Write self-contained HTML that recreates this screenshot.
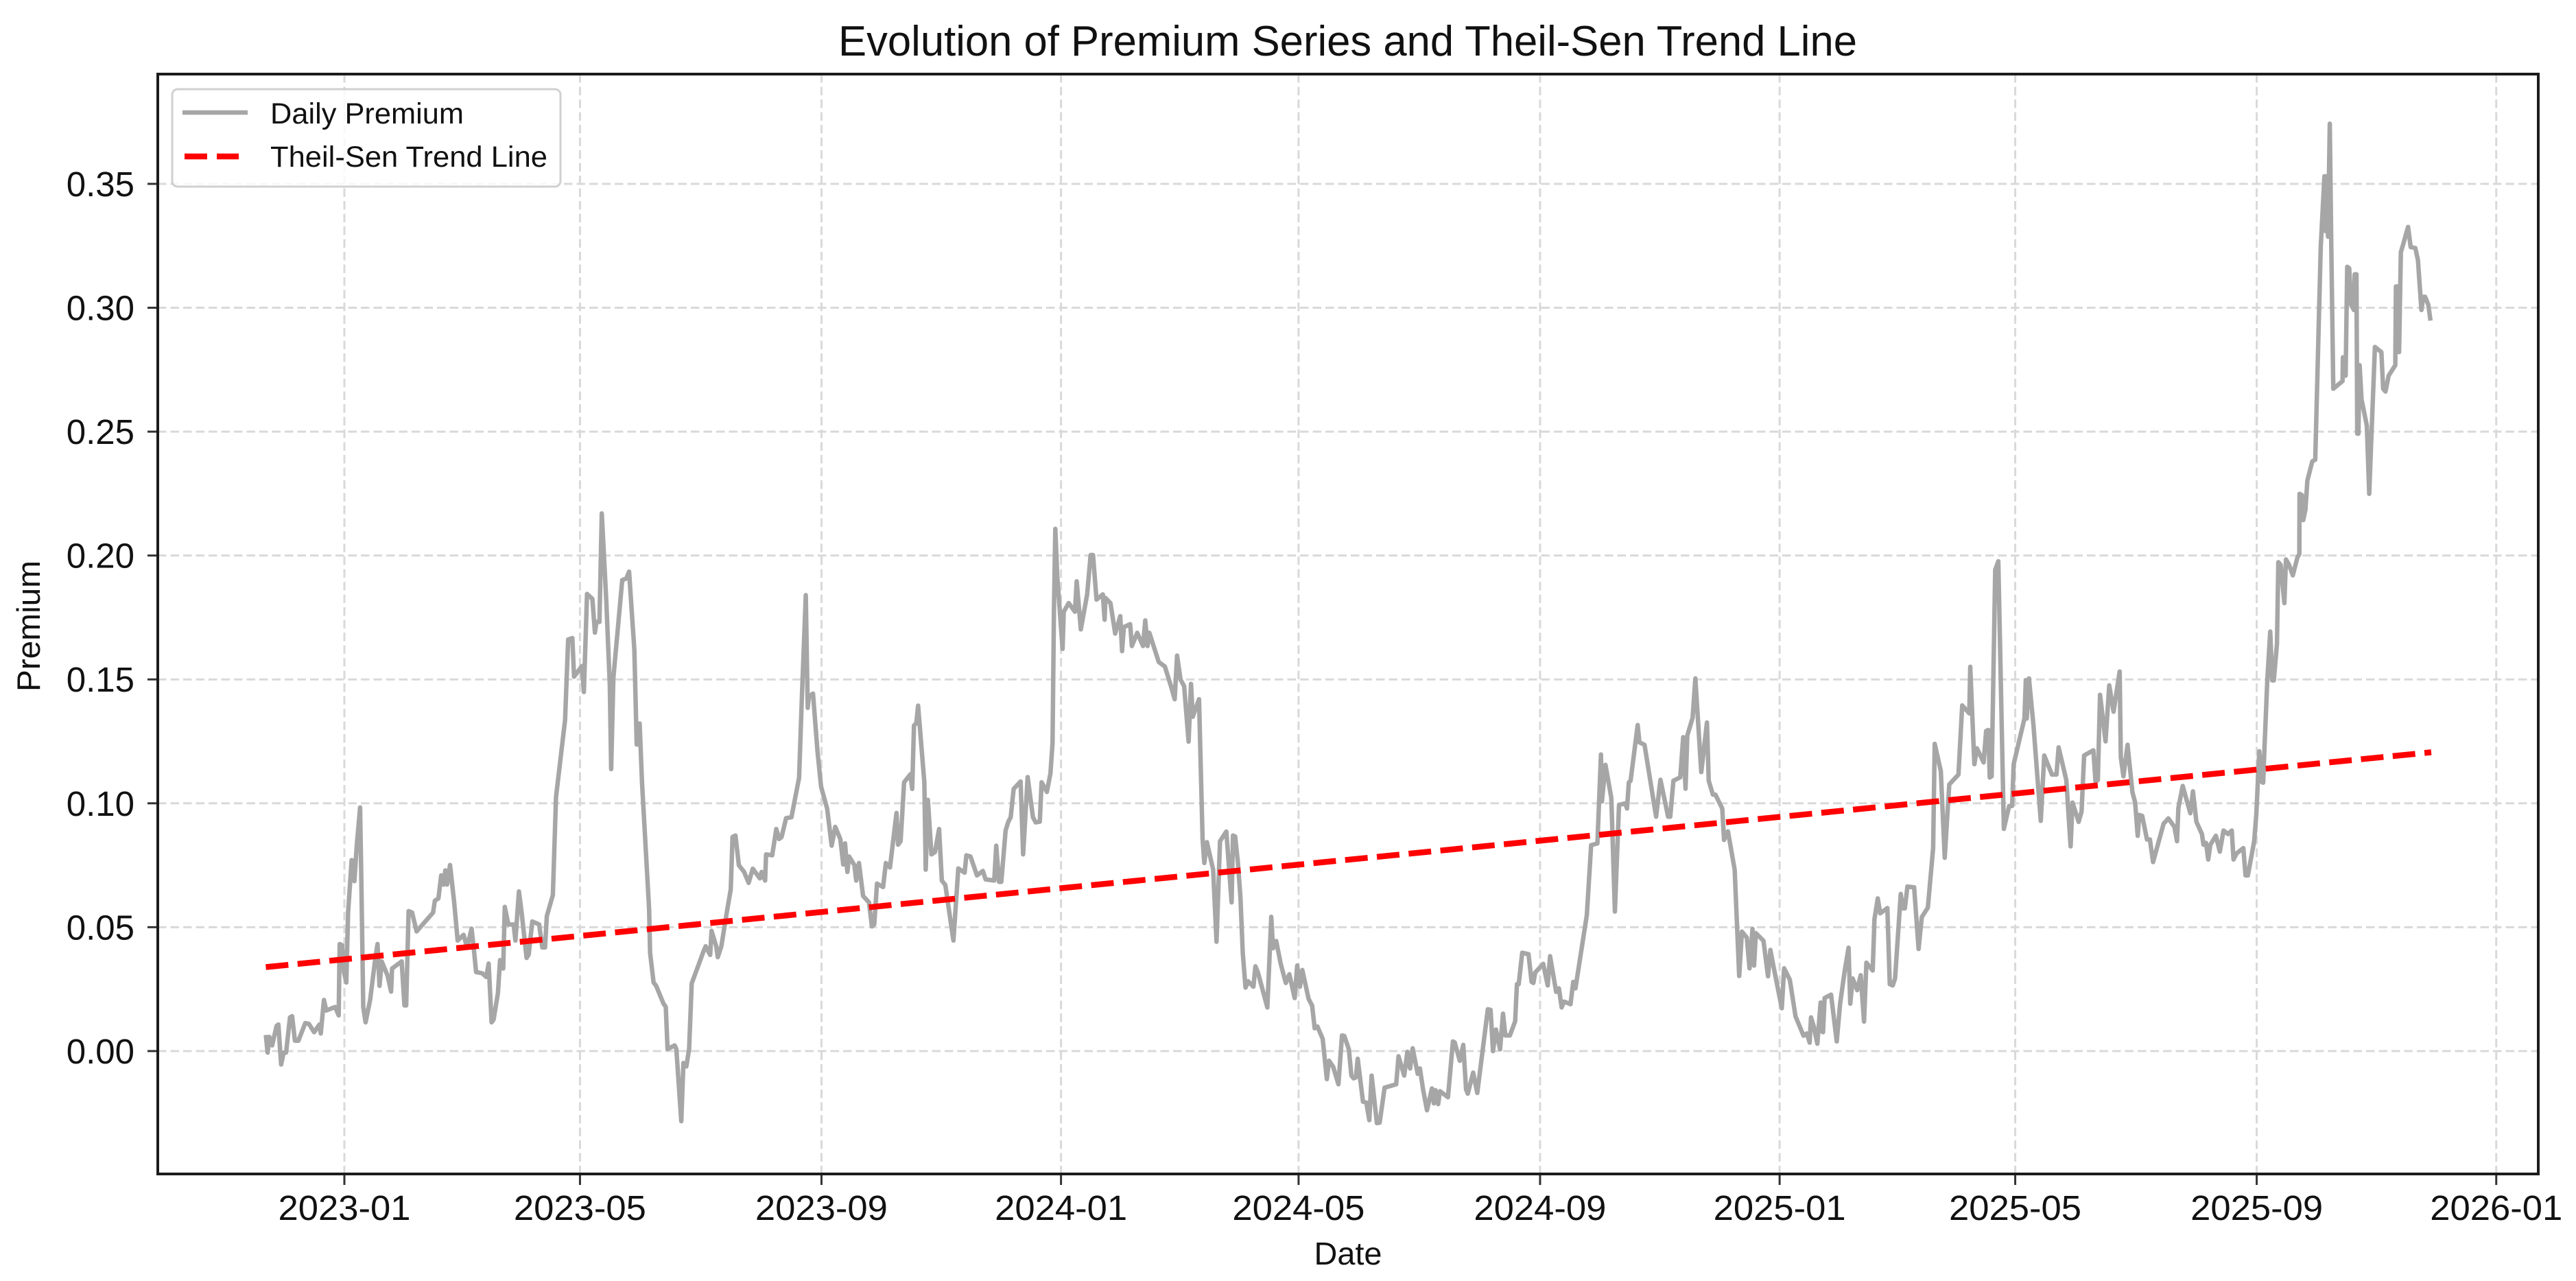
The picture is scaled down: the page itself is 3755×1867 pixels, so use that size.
<!DOCTYPE html>
<html lang="en">
<head>
<meta charset="utf-8">
<title>Evolution of Premium Series and Theil-Sen Trend Line</title>
<style>
  html, body { margin: 0; padding: 0; background: #ffffff; }
  svg { display: block; font-family: "Liberation Sans", sans-serif; }
  text { fill: #111111; }
</style>
</head>
<body>
<svg id="chart" xmlns="http://www.w3.org/2000/svg" width="3755" height="1867" viewBox="0 0 3755 1867">
  <rect x="0" y="0" width="3755" height="1867" fill="#ffffff"/>
  <g id="grid"></g>
  <g id="series"></g>
  <g id="ticks"></g>
  <rect x="230" y="108" width="3470" height="1603" fill="none" stroke="#1c1c1c" stroke-width="4"/>
  <text x="1222" y="81" font-size="62" textLength="1485" lengthAdjust="spacingAndGlyphs">Evolution of Premium Series and Theil-Sen Trend Line</text>
  <text x="1965" y="1843" font-size="46" text-anchor="middle" textLength="99" lengthAdjust="spacingAndGlyphs">Date</text>
  <text transform="translate(58,912.5) rotate(-90)" font-size="47" text-anchor="middle" textLength="191" lengthAdjust="spacingAndGlyphs">Premium</text>
  <g>
    <rect x="251" y="130" width="566" height="142" rx="8" ry="8" fill="#ffffff" fill-opacity="0.8" stroke="#d0d0d0" stroke-width="3"/>
    <line x1="266" y1="164" x2="361" y2="164" stroke="#a6a6a6" stroke-width="6.5"/>
    <text x="394" y="180" font-size="43" textLength="282" lengthAdjust="spacingAndGlyphs">Daily Premium</text>
    <line x1="269" y1="228" x2="348" y2="228" stroke="#ff0000" stroke-width="8.5" stroke-dasharray="33 14"/>
    <text x="394" y="243" font-size="43" textLength="404" lengthAdjust="spacingAndGlyphs">Theil-Sen Trend Line</text>
  </g>
</svg>
<script>
// Days since 2022-11-22 for each observation of the premium series
const premiumDays = [
0,.9,1.8,3.2,5.5,6.4,7.8,9.1,10.3,12.3,
13.4,14.8,16.6,20.1,21.9,24.6,27.3,28,29.6,30.8,
35.3,37.1,37.6,38.9,39.8,41,41.9,43.7,45.1,46.3,
48,48.7,49.6,50.8,53.1,55.8,56.9,57.9,59,62,
63.8,64.3,69.2,70.6,71.5,72.7,74.5,76.8,85.2,86.1,
87.9,89.3,90.6,91.4,92.3,93.8,95.9,97.7,100.7,102.5,
104.8,106.1,107.1,110.2,112.3,113.5,115,116,118.2,119.3,
120.9,121.7,123.5,126.2,127.1,128.9,130.3,132.8,133.9,135.7,
139.2,140.8,142.2,143.1,146.2,147.8,152.4,154,156.1,157,
161,162,163.6,166.3,167.6,168.4,169.9,171.1,173.4,175.2,
175.9,177,181.5,183.6,185,187.7,188.9,190.4,191.6,195.2,
195.7,197.5,198.8,202.5,203.7,204.6,208.2,209.1,211.6,212.7,
214.2,215.6,216.9,223.1,224,226.3,227,229.4,230.2,232,
234.7,236.8,237.7,239.2,240.9,243.6,245.9,248,251.6,252.5,
254.3,254.8,257.9,260,261.4,262.7,265,267.7,271.6,273,
273.4,275,276,276.6,278.7,281,282.8,285.9,288.2,290,
292.6,294.1,295,296.2,297.1,299.8,300.7,302.1,304.2,307.2,
308.7,309.9,311.3,314.4,315.8,317.9,321.2,322,323.3,325.1,
328.3,329.2,330.1,331.3,332.2,335.4,336.1,337.2,339,340.8,
342.9,344.3,346.1,350.2,352.7,355.9,356.8,358.9,362.2,365.2,
366.6,371,372,373.4,374.6,376.8,378.2,379.4,380.9,384.4,
385.7,388,390.7,392.1,394.2,395.1,397.8,399.6,400.7,401.4,
402.1,403.1,405.8,406.4,408.9,412.1,413,415.1,418.3,420.1,
421.3,423.1,426.3,427.2,427.6,430.2,432.6,435.2,436.1,437,
440.2,441.1,443.8,446.8,447.9,449.1,450,454.8,457.9,461,
462.9,464.1,465.9,467.7,470,471.2,472.1,475.3,477.1,478,
479.3,482.5,484.2,486,489.2,491.9,492.6,493.7,495.1,496.4,
497.6,499,500.3,501.7,503,504,505.3,510.1,512.1,513,
514.6,516.9,519.5,521.3,524,525.3,526.7,527.9,531.1,532.9,
534.2,535.6,538.3,540.4,541.5,543.6,546.3,548.1,549.3,551.6,
552.9,554,555.2,556.1,558.8,560.5,562,563.2,565.9,567.3,
569.8,575.7,576.9,579.8,581.4,582.8,584.1,586.7,587.8,589.4,
591.4,593.9,594.9,595.7,597.1,598,602.1,604.6,605.5,608.1,
609.9,611.3,612.2,614.9,617,622.4,623.8,625,626.5,628.6,
630.1,631.3,633.6,636.3,637.2,638.1,639.9,643.1,644.7,645.6,
646.5,650.6,652.9,654.1,657.2,658.6,660,661.2,664.5,665.9,
667,672.8,675,678.2,680,680.5,682.3,685.3,687.1,689.2,
692.4,693.3,694.2,695.1,698.7,699.6,702.2,708.1,710.3,714.2,
715.3,716.9,720.4,721.9,723.1,724,726.7,728.1,731.1,734,
734.9,737,738.3,741.8,742.7,744.7,748.1,750.4,751.8,754.3,
755.7,757.2,758,758.9,762.8,765.1,766.3,767.5,772.1,773.3,
776.2,779.1,783.2,784.9,786.3,787,788.4,790.2,791.9,792.5,
793.1,793.9,797.2,800.1,801.8,804.1,806.1,807,808.2,810.5,
812.3,814,815.2,818.4,819.3,821,822.2,825.9,827.1,828.6,
829.8,832.7,833.7,834.8,836.1,839.5,841.8,843.4,846.5,849.2,
850,853.1,855.1,857.4,862.1,864,867.6,868.1,870.2,871.5,
874.9,876.2,877.3,878,879,880.8,882.4,885.2,887.9,889.4,
890.2,895.7,896.4,896.9,898,900.3,904,905.8,909.7,912,
913.1,917,919.2,920.2,923.3,924.8,926.1,930.8,931.9,933.1,
934.2,937,938.9,941.1,944.2,944.8,946.1,948.2,950.7,952.1,
953.4,954.2,955.7,958.1,959.6,961.2,966.6,969,972.1,973.4,
974.1,976.3,980.2,981.5,983.3,986.1,986.9,988.2,989.3,990.4,
993.2,995.2,997.1,999.4,1001.3,1002.2,1003.8,1007.2,1008.3,1009.5,
1012.7,1013.8,1015.3,1016.6,1017.3,1017.9,1019.4,1020.9,1021.9,1022.7,
1024.3,1025,1026.2,1028.1,1028.9,1030.5,1032.4,1034.8,1035.7,1035.8,
1037,1037.7,1038.8,1039.8,1042.3,1043.8,1046.6,1048.5,1049.1,1049.7,
1050.3,1051.2,1051.9,1053,1057.7,1057.9,1058.6,1059.3,1060.1,1061.1,
1062.1,1063.5,1063.9,1064.8,1065.2,1065.8,1066.4,1067.4,1070.1,1071.3,
1072.2,1074.2,1077.5,1078.4,1079.6,1081.2,1084.6,1084.9,1086.2,1086.5,
1087.4,1088.6,1091.1,1092.4,1094.8,1096.1,1097.9,1098.8,1099.8,1101.4,1102.5
];
// Daily premium readings, same order as premiumDays
const premiumValues = [
.0065,-.0006,.0057,.0023,.0102,.0107,-.0054,-.0006,-.0006,.0136,
.0141,.0042,.0042,.0113,.011,.0076,.0107,.0071,.0206,.0164,
.0178,.0144,.0432,.0427,.0319,.0277,.0559,.0771,.0686,.0828,
.0983,.0658,.0178,.0116,.0206,.0376,.0432,.0263,.0362,.0305,
.024,.0333,.0362,.0184,.0184,.0565,.0559,.0483,.0559,.0607,
.0616,.0709,.0672,.0729,.0672,.0751,.0602,.0446,.0469,.0418,
.0494,.0398,.0319,.0314,.0299,.0353,.0116,.0127,.0234,.0367,
.0333,.0582,.0511,.0511,.0446,.0644,.0559,.0376,.039,.0523,
.0511,.0418,.0418,.0545,.063,.1025,.1336,.1661,.1667,.1511,
.1554,.1449,.1845,.1825,.1689,.1732,.1732,.217,.1816,.1477,
.1138,.1506,.1901,.1907,.1935,.1619,.1237,.1322,.1082,.0573,
.0398,.0277,.0263,.0192,.0178,.0008,.0023,.0008,-.0283,-.0048,
-.0062,.0009,.0273,.0406,.0423,.0388,.0485,.0423,.0379,.0423,
.0556,.0653,.0864,.087,.075,.0723,.0679,.0736,.0697,.0723,
.0688,.0794,.079,.0896,.0856,.0864,.094,.0944,.1103,.142,
.1508,.184,.1385,.1429,.1443,.1208,.1067,.0979,.0829,.0905,
.0856,.0753,.0838,.0723,.0785,.075,.0688,.0759,.0626,.06,
.0503,.0512,.0676,.0662,.0759,.0741,.0961,.0833,.0847,.1085,
.1117,.1058,.1314,.1323,.1394,.1085,.0732,.1014,.0794,.0803,
.0896,.0688,.067,.0446,.0737,.072,.079,.0785,.0709,.0727,
.0693,.0688,.0829,.0683,.0683,.0891,.0926,.0944,.1058,.1088,
.0794,.1106,.0944,.0923,.0926,.1085,.1046,.112,.1244,.1773,
.2108,.1914,.1623,.1773,.1808,.1773,.1896,.1702,.1843,.2002,
.2002,.1822,.1843,.1741,.1829,.1808,.1685,.1755,.1614,.1711,
.1723,.1635,.1688,.1635,.1738,.1635,.1688,.157,.1552,.1473,
.142,.1596,.1499,.1473,.1249,.1482,.1349,.142,.0856,.0759,
.0843,.0732,.0441,.0847,.0886,.06,.087,.0866,.076,.062,
.0394,.0256,.0282,.027,.026,.0342,.0317,.0176,.0542,.0415,
.0444,.0352,.0275,.031,.0214,.0345,.026,.0327,.0211,.0183,
.0092,.0099,.0049,-.0113,-.0039,-.0063,-.0134,.0063,.0061,.0007,
-.0099,-.011,-.0106,-.0031,-.0204,-.0208,-.0279,-.0099,-.0291,-.0289,
-.0148,-.0134,-.0021,-.0099,-.0003,-.007,.0011,-.0092,-.007,-.0155,
-.0239,-.0151,-.0211,-.0158,-.0214,-.0162,-.0186,.0039,.0035,-.0039,
.0025,-.0155,-.0172,-.0087,-.0169,.0169,.0166,0,.0087,.0007,
.0151,.0063,.0063,.012,.027,.027,.0397,.0391,.0279,.0275,
.0317,.0352,.0265,.0383,.0239,.0253,.0176,.02,.0189,.0279,
.0253,.0549,.0831,.0838,.1197,.1007,.1155,.1021,.0563,.0993,
.1,.0979,.1084,.1091,.1316,.1246,.1236,.0946,.1095,.0946,
.0946,.1091,.1105,.1267,.1059,.1274,.1345,.1504,.1126,.1326,
.1091,.1035,.1035,.0979,.0852,.0887,.0732,.0303,.0482,.0458,
.0334,.0493,.0345,.0476,.0445,.0302,.0408,.0357,.0173,.0334,
.0288,.014,.0062,.0071,.0034,.0136,.0099,.003,.0196,.008,
.0076,.0214,.0228,.0039,.0191,.032,.0417,.0191,.0293,.0246,
.0306,.0119,.0357,.0325,.0533,.0616,.0556,.0577,.027,.0265,
.0293,.0634,.0576,.0576,.0664,.0661,.0412,.054,.0579,.0819,
.124,.113,.078,.1076,.1116,.1395,.1363,.1551,.1158,.1222,
.1165,.1292,.1296,.1104,.1109,.1942,.1977,.0897,.0989,.0989,
.1158,.1342,.1497,.1342,.1504,.1313,.0929,.1193,.1116,.1116,
.1226,.1094,.0826,.1003,.0925,.0967,.1193,.1214,.1087,.1094,
.1438,.125,.1476,.137,.1532,.1186,.1109,.1236,.1045,.1003,
.0869,.0953,.0949,.0854,.0854,.0763,.0918,.0939,.0904,.0847,
.0981,.107,.096,.1048,.0925,.0876,.0833,.084,.0773,.0833,
.0869,.0805,.089,.0876,.089,.0773,.0798,.0819,.0709,.0709,
.0847,.0955,.121,.1087,.1083,.121,.1496,.1693,.1496,.1496,
.1644,.1973,.1962,.1808,.1984,.1962,.192,.1994,.2005,.2249,
.2244,.2143,.2185,.2302,.238,.2387,.3245,.3531,.3309,.3531,
.3287,.3743,.3287,.2673,.2704,.28,.28,.2726,.3165,.316,
.3012,.2991,.3135,.3135,.2492,.2492,.2768,.263,.2524,.2249,
.244,.2842,.2821,.2673,.2662,.2726,.2768,.3086,.3086,.2821,
.3224,.3256,.3326,.3245,.3241,.3192,.2991,.3044,.3044,.3012,.2948
];
// Theil-Sen trend line end points
const trendDays = [0, 1102.9];
const trendValues = [.0339, .1206];
// Axis tick labels
const xTickLabels = ["2023-01","2023-05","2023-09","2024-01","2024-05","2024-09","2025-01","2025-05","2025-09","2026-01"];
const yTickLabels = ["0.00","0.05","0.10","0.15","0.20","0.25","0.30","0.35"];

const SVG_NS = "http://www.w3.org/2000/svg";
const plot = { left: 230, right: 3700, top: 108, bottom: 1711 };
const xDomain = [-55.03, 1157.4];
const yDomain = [-0.0496, 0.3943];
const originMs = Date.UTC(2022, 10, 22);

function xScale(day) {
  return plot.left + (day - xDomain[0]) / (xDomain[1] - xDomain[0]) * (plot.right - plot.left);
}
function yScale(value) {
  return plot.bottom - (value - yDomain[0]) / (yDomain[1] - yDomain[0]) * (plot.bottom - plot.top);
}
function labelToDay(label) {
  const parts = label.split("-");
  return (Date.UTC(Number(parts[0]), Number(parts[1]) - 1, 1) - originMs) / 86400000;
}
function make(tag, attrs, parent) {
  const el = document.createElementNS(SVG_NS, tag);
  for (const key in attrs) el.setAttribute(key, attrs[key]);
  parent.appendChild(el);
  return el;
}
function pathFrom(days, values) {
  return days.map(function (d, i) {
    return (i ? "L" : "M") + xScale(d).toFixed(1) + " " + yScale(values[i]).toFixed(1);
  }).join("");
}

const gridLayer = document.getElementById("grid");
const tickLayer = document.getElementById("ticks");
const seriesLayer = document.getElementById("series");
const gridStyle = { stroke: "#d9d9d9", "stroke-width": 3, "stroke-dasharray": "12.5 6" };

xTickLabels.forEach(function (label) {
  const x = xScale(labelToDay(label));
  const grid = make("line", Object.assign({ x1: x, x2: x, y1: plot.top, y2: plot.bottom }, gridStyle), gridLayer);
  
  
  const tick = make("line", { x1: x, x2: x, y1: plot.bottom, y2: plot.bottom + 16, stroke: "#333333", "stroke-width": 3 }, tickLayer);
  
  
  const text = make("text", { x: x, y: 1778, "font-size": 51, "text-anchor": "middle", textLength: 193, lengthAdjust: "spacingAndGlyphs" }, tickLayer);
  text.textContent = label;
  
  
});

yTickLabels.forEach(function (label) {
  const y = yScale(Number(label));
  const grid = make("line", Object.assign({ x1: plot.left, x2: plot.right, y1: y, y2: y }, gridStyle), gridLayer);
  
  
  const tick = make("line", { x1: plot.left - 15, x2: plot.left, y1: y, y2: y, stroke: "#333333", "stroke-width": 3 }, tickLayer);
  
  
  const text = make("text", { x: 196, y: y + 18, "font-size": 51, "text-anchor": "end" }, tickLayer);
  text.textContent = label;
  
  
});

const premiumLine = make("path", {
  d: pathFrom(premiumDays, premiumValues),
  fill: "none", stroke: "#a6a6a6", "stroke-width": 6.5, "stroke-linejoin": "round"
}, seriesLayer);



const trendLine = make("path", {
  d: pathFrom(trendDays, trendValues),
  fill: "none", stroke: "#ff0000", "stroke-width": 8.5, "stroke-dasharray": "33 13.5"
}, seriesLayer);


</script>
</body>
</html>
